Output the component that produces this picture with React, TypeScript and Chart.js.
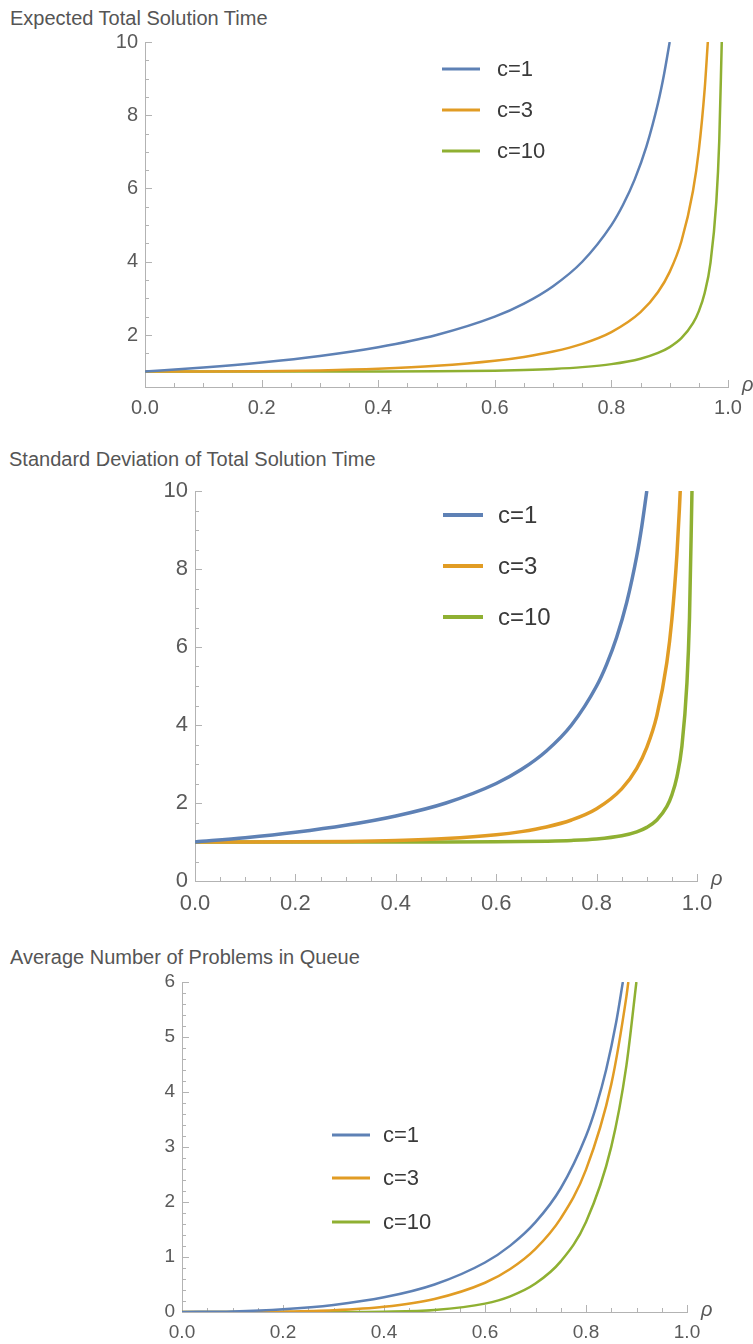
import React, { useEffect, useRef } from 'react';
import { Chart, registerables } from 'chart.js';

Chart.register(...registerables);

// ---------------- data ----------------
const SERIES_LABELS = ['c=1', 'c=3', 'c=10'];
const SERIES_COLORS = ['#5E81B5', '#E19C24', '#8FB032'];

const X_TICK_VALUES = [0, 0.2, 0.4, 0.6, 0.8, 1.0];
const X_TICK_LABELS = ['0.0', '0.2', '0.4', '0.6', '0.8', '1.0'];

const TITLES = [
  'Expected Total Solution Time',
  'Standard Deviation of Total Solution Time',
  'Average Number of Problems in Queue',
];

// Chart 1: expected total solution time
const T_RHO_C1 = [0, 0.1, 0.2, 0.3, 0.4, 0.5, 0.6, 0.65, 0.7, 0.75, 0.8, 0.82, 0.84, 0.86, 0.88, 0.89, 0.9];
const T_VAL_C1 = [1, 1.1111, 1.25, 1.4286, 1.6667, 2, 2.5, 2.8571, 3.3333, 4, 5, 5.5556, 6.25, 7.1429, 8.3333, 9.0909, 10];
const T_RHO_C3 = [0, 0.1, 0.2, 0.3, 0.4, 0.5, 0.6, 0.65, 0.7, 0.75, 0.8, 0.85, 0.88, 0.9, 0.92, 0.94, 0.95, 0.96, 0.9654];
const T_VAL_C3 = [1, 1.0014, 1.0103, 1.0333, 1.0784, 1.1579, 1.2956, 1.4012, 1.547, 1.757, 2.0786, 2.6231, 3.1722, 3.7235, 4.5528, 5.9376, 7.0467, 8.7114, 10];
const T_RHO_C10 = [0, 0.2, 0.3, 0.4, 0.5, 0.6, 0.65, 0.7, 0.75, 0.8, 0.85, 0.88, 0.9, 0.92, 0.94, 0.95, 0.96, 0.97, 0.98, 0.985, 0.9893];
const T_VAL_C10 = [1, 1.0, 1.0002, 1.0015, 1.0072, 1.0253, 1.0439, 1.0739, 1.1226, 1.2046, 1.3533, 1.5092, 1.6687, 1.9117, 2.3213, 2.6512, 3.1477, 3.9776, 5.6408, 7.3058, 10];
const T_Y_TICKS = [2, 4, 6, 8, 10];
const T_Y_LABELS = ['2', '4', '6', '8', '10'];

// Chart 2: standard deviation of total solution time
const SD_RHO_C1 = [0, 0.1, 0.2, 0.3, 0.4, 0.5, 0.6, 0.65, 0.7, 0.75, 0.8, 0.82, 0.84, 0.86, 0.88, 0.89, 0.9];
const SD_VAL_C1 = [1, 1.1111, 1.25, 1.4286, 1.6667, 2, 2.5, 2.8571, 3.3333, 4, 5, 5.5556, 6.25, 7.1429, 8.3333, 9.0909, 10];
const SD_RHO_C3 = [0, 0.1, 0.2, 0.3, 0.4, 0.5, 0.6, 0.65, 0.7, 0.75, 0.8, 0.85, 0.88, 0.9, 0.92, 0.94, 0.95, 0.96, 0.965, 0.9666];
const SD_VAL_C3 = [1, 1.0005, 1.0042, 1.0152, 1.0397, 1.0889, 1.1855, 1.2662, 1.3843, 1.5639, 1.8526, 2.3621, 2.8895, 3.4263, 4.2408, 5.611, 6.7128, 8.3701, 9.5559, 10];
const SD_RHO_C10 = [0, 0.2, 0.3, 0.4, 0.5, 0.6, 0.65, 0.7, 0.75, 0.8, 0.85, 0.88, 0.9, 0.92, 0.94, 0.95, 0.96, 0.97, 0.98, 0.985, 0.99];
const SD_VAL_C10 = [1, 1.0, 1.0, 1.0002, 1.0014, 1.006, 1.0115, 1.0217, 1.0406, 1.0783, 1.1603, 1.2607, 1.3749, 1.5646, 1.9127, 2.2087, 2.6694, 3.4618, 5.0864, 6.7316, 10];
const SD_Y_TICKS = [0, 2, 4, 6, 8, 10];
const SD_Y_LABELS = ['0', '2', '4', '6', '8', '10'];

// Chart 3: average number of problems in queue
const LQ_RHO_C1 = [0, 0.1, 0.2, 0.3, 0.4, 0.5, 0.6, 0.65, 0.7, 0.75, 0.8, 0.82, 0.84, 0.86, 0.873];
const LQ_VAL_C1 = [0, 0.0111, 0.05, 0.1286, 0.2667, 0.5, 0.9, 1.2071, 1.6333, 2.25, 3.2, 3.7356, 4.41, 5.2829, 6];
const LQ_RHO_C3 = [0, 0.1, 0.2, 0.3, 0.4, 0.5, 0.6, 0.65, 0.7, 0.75, 0.8, 0.85, 0.88, 0.8838];
const LQ_VAL_C3 = [0, 0.0004, 0.0062, 0.03, 0.0941, 0.2368, 0.5321, 0.7823, 1.1488, 1.7033, 2.5888, 4.1388, 5.7345, 6];
const LQ_RHO_C10 = [0, 0.2, 0.3, 0.4, 0.5, 0.6, 0.65, 0.7, 0.75, 0.8, 0.85, 0.88, 0.8998];
const LQ_VAL_C10 = [0, 0, 0.0005, 0.0059, 0.0361, 0.152, 0.2855, 0.5174, 0.9198, 1.6367, 3.0026, 4.4807, 6];
const LQ_Y_TICKS = [0, 1, 2, 3, 4, 5, 6];
const LQ_Y_LABELS = ['0', '1', '2', '3', '4', '5', '6'];

// ---------------- styling ----------------
const FONT = '"Liberation Sans", Arial, Helvetica, sans-serif';
const AXIS_COLOR = '#b3b3b3';
const TICK_TEXT = '#5a5a5a';
const W = 753;

const decorPlugin = {
  id: 'decor',
  beforeDatasetsDraw(chart: any, _args: any, o: any) {
    const { ctx, chartArea: ca, scales } = chart;
    const xs = scales.x;
    const ys = scales.y;
    ctx.save();
    ctx.strokeStyle = AXIS_COLOR;
    ctx.lineWidth = 1;
    const nx = Math.round((xs.max - xs.min) / o.xMinor);
    for (let i = 0; i <= nx; i++) {
      const v = xs.min + i * o.xMinor;
      const major = X_TICK_VALUES.some((m) => Math.abs(m - v) < 1e-6);
      const px = Math.round(xs.getPixelForValue(v)) + 0.5;
      ctx.beginPath();
      ctx.moveTo(px, ca.bottom);
      ctx.lineTo(px, ca.bottom - (major ? o.majorLen : o.minorLen));
      ctx.stroke();
    }
    const s = Math.ceil(ys.min / o.yMinor - 1e-9);
    const e = Math.floor(ys.max / o.yMinor + 1e-9);
    for (let i = s; i <= e; i++) {
      const v = i * o.yMinor;
      const major = o.yMajors.some((m: number) => Math.abs(m - v) < 1e-6);
      const py = Math.round(ys.getPixelForValue(v)) + 0.5;
      ctx.beginPath();
      ctx.moveTo(ca.left, py);
      ctx.lineTo(ca.left + (major ? o.majorLen : o.minorLen), py);
      ctx.stroke();
    }
    ctx.restore();
  },
  afterDraw(chart: any, _args: any, o: any) {
    const { ctx, chartArea: ca } = chart;
    ctx.save();
    const lg = o.legend;
    chart.data.datasets.forEach((ds: any, i: number) => {
      const y = lg.rows[i];
      ctx.strokeStyle = ds.borderColor;
      ctx.lineWidth = lg.lineWidth;
      ctx.beginPath();
      ctx.moveTo(lg.x, y);
      ctx.lineTo(lg.x + lg.len, y);
      ctx.stroke();
      ctx.fillStyle = '#3a3a3a';
      ctx.font = `${lg.fontSize}px ${FONT}`;
      ctx.textAlign = 'left';
      ctx.textBaseline = 'middle';
      ctx.fillText(ds.label, lg.textX, y + 1);
    });
    ctx.fillStyle = TICK_TEXT;
    ctx.font = `italic ${o.rhoSize}px ${FONT}`;
    ctx.textAlign = 'left';
    ctx.textBaseline = 'middle';
    ctx.fillText('ρ', ca.right + 14, ca.bottom - 2);
    ctx.restore();
  },
};

type Spec = {
  title: string;
  titleLeft: number;
  titleTop: number;
  top: number;
  height: number;
  area: { left: number; right: number; top: number; bottom: number };
  rhos: number[][];
  vals: number[][];
  yMin: number;
  yMax: number;
  yTicks: number[];
  yLabels: string[];
  yMinor: number;
  tickSize: number;
  xPad: number;
  lineWidth: number;
  legend: { x: number; len: number; textX: number; rows: number[]; fontSize: number; lineWidth: number };
};

const SPECS: Spec[] = [
  {
    title: TITLES[0], titleLeft: 10, titleTop: 8, top: 0, height: 430,
    area: { left: 145, right: 728, top: 42, bottom: 387 },
    rhos: [T_RHO_C1, T_RHO_C3, T_RHO_C10], vals: [T_VAL_C1, T_VAL_C3, T_VAL_C10],
    yMin: 0.58, yMax: 10, yTicks: T_Y_TICKS, yLabels: T_Y_LABELS, yMinor: 0.5,
    tickSize: 20, xPad: 9, lineWidth: 2.5,
    legend: { x: 442, len: 38, textX: 497, rows: [69, 110, 151], fontSize: 22, lineWidth: 3 },
  },
  {
    title: TITLES[1], titleLeft: 9, titleTop: 449, top: 430, height: 490,
    area: { left: 195, right: 697, top: 61, bottom: 451 },
    rhos: [SD_RHO_C1, SD_RHO_C3, SD_RHO_C10], vals: [SD_VAL_C1, SD_VAL_C3, SD_VAL_C10],
    yMin: 0, yMax: 10, yTicks: SD_Y_TICKS, yLabels: SD_Y_LABELS, yMinor: 0.5,
    tickSize: 22, xPad: 10, lineWidth: 3.5,
    legend: { x: 443, len: 40, textX: 498, rows: [85, 136, 187], fontSize: 24, lineWidth: 4 },
  },
  {
    title: TITLES[2], titleLeft: 10, titleTop: 947, top: 920, height: 424,
    area: { left: 182, right: 687, top: 62, bottom: 392 },
    rhos: [LQ_RHO_C1, LQ_RHO_C3, LQ_RHO_C10], vals: [LQ_VAL_C1, LQ_VAL_C3, LQ_VAL_C10],
    yMin: 0, yMax: 6, yTicks: LQ_Y_TICKS, yLabels: LQ_Y_LABELS, yMinor: 0.2,
    tickSize: 19, xPad: 9, lineWidth: 2.5,
    legend: { x: 332, len: 38, textX: 383, rows: [215, 258, 302], fontSize: 22, lineWidth: 3 },
  },
];

function PanelChart({ spec }: { spec: Spec }) {
  const ref = useRef<HTMLCanvasElement | null>(null);
  useEffect(() => {
    if (!ref.current) return;
    const datasets = spec.rhos.map((rs, i) => ({
      label: SERIES_LABELS[i],
      data: rs.map((r, j) => ({ x: r, y: spec.vals[i][j] })),
      borderColor: SERIES_COLORS[i],
      backgroundColor: SERIES_COLORS[i],
      borderWidth: spec.lineWidth,
      pointRadius: 0,
      fill: false,
      cubicInterpolationMode: 'monotone' as const,
    }));
    const chart = new Chart(ref.current, {
      type: 'line',
      data: { datasets },
      plugins: [decorPlugin as any],
      options: {
        responsive: false,
        animation: false,
        events: [],
        layout: { padding: { left: 0, top: spec.area.top, right: W - spec.area.right, bottom: 0 } },
        plugins: {
          legend: { display: false },
          tooltip: { enabled: false },
          decor: {
            xMinor: 0.05,
            yMinor: spec.yMinor,
            yMajors: spec.yTicks,
            majorLen: 7,
            minorLen: 4,
            rhoSize: 20,
            legend: spec.legend,
          },
        } as any,
        scales: {
          x: {
            type: 'linear',
            min: 0,
            max: 1,
            grid: { display: false, drawTicks: false },
            border: { display: true, color: AXIS_COLOR, width: 1 },
            afterBuildTicks: (s: any) => {
              s.ticks = X_TICK_VALUES.map((v) => ({ value: v }));
            },
            afterFit: (s: any) => {
              s.height = spec.height - spec.area.bottom;
            },
            ticks: {
              autoSkip: false,
              maxRotation: 0,
              minRotation: 0,
              padding: spec.xPad,
              color: TICK_TEXT,
              font: { family: FONT, size: spec.tickSize },
              callback: (_v: any, i: number) => X_TICK_LABELS[i],
            },
          },
          y: {
            type: 'linear',
            min: spec.yMin,
            max: spec.yMax,
            grid: { display: false, drawTicks: false },
            border: { display: true, color: AXIS_COLOR, width: 1 },
            afterBuildTicks: (s: any) => {
              s.ticks = spec.yTicks.map((v) => ({ value: v }));
            },
            afterFit: (s: any) => {
              s.width = spec.area.left;
            },
            ticks: {
              autoSkip: false,
              padding: 7,
              color: TICK_TEXT,
              font: { family: FONT, size: spec.tickSize },
              callback: (_v: any, i: number) => spec.yLabels[i],
            },
          },
        },
      },
    } as any);
    return () => chart.destroy();
  }, [spec]);
  return (
    <>
      <div
        style={{
          position: 'absolute',
          left: spec.titleLeft,
          top: spec.titleTop,
          fontFamily: FONT,
          fontSize: 20,
          lineHeight: '20px',
          color: '#555',
          whiteSpace: 'nowrap',
        }}
      >
        {spec.title}
      </div>
      <canvas
        ref={ref}
        width={W}
        height={spec.height}
        style={{ position: 'absolute', left: 0, top: spec.top, width: W, height: spec.height }}
      />
    </>
  );
}

export default function App() {
  return (
    <div style={{ position: 'absolute', left: 0, top: 0, width: W, height: 1344, background: '#fff', overflow: 'hidden' }}>
      {SPECS.map((s, i) => (
        <PanelChart key={i} spec={s} />
      ))}
    </div>
  );
}
